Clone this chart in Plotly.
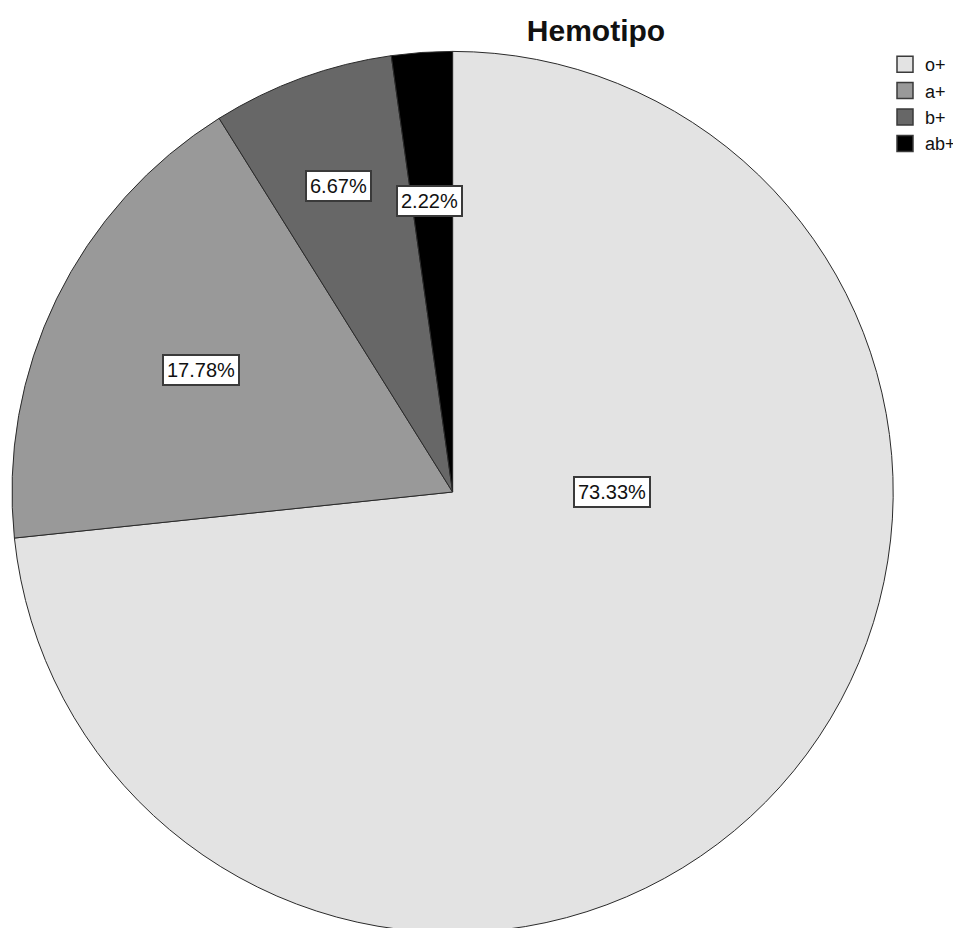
import math
import plotly.graph_objects as go

# ---- data ----
title_text = "Hemotipo"
categories = ["o+", "a+", "b+", "ab+"]
counts = [33, 8, 3, 1]
slice_colors = ["#e3e3e3", "#999999", "#676767", "#000000"]

# label placement (fraction of radius) and optional angle override (degrees clockwise from top)
label_radius_frac = [0.371, 0.632, 0.742, 0.664]
label_angle_override = [90, None, None, None]

FONT = "Liberation Sans, Arial, sans-serif"
W, H = 953, 926
# pie geometry in pixels (figure coordinates)
pie_left, pie_right, pie_top = 4, 888, 42
R_px = min(pie_right - pie_left, H - pie_top) / 2
cx_px = (pie_left + pie_right) / 2 - 3
cy_px = pie_top + R_px
R_draw = R_px - 3  # plotly draws the pie slightly inside its domain

fig = go.Figure()
fig.add_trace(go.Pie(
    labels=categories,
    values=counts,
    sort=False,
    direction="clockwise",
    rotation=0,
    marker=dict(colors=slice_colors, line=dict(color="#2a2a2a", width=1)),
    textinfo="none",
    hoverinfo="label+percent",
    showlegend=False,
    domain=dict(x=[pie_left / W, pie_right / W], y=[0, 1 - pie_top / H]),
))

# legend entries (square swatches)
for cat, col in zip(categories, slice_colors):
    fig.add_trace(go.Scatter(
        x=[None], y=[None], mode="markers", name=cat,
        marker=dict(symbol="square", size=16, color=col,
                    line=dict(color="#3a3a3a", width=1.5)),
        showlegend=True, hoverinfo="skip",
    ))

total = sum(counts)
cum = 0
annotations = []
for i, (cat, v) in enumerate(zip(categories, counts)):
    pct = 100 * v / total
    mid = (cum + v / 2) / total * 360
    cum += v
    ang = label_angle_override[i] if label_angle_override[i] is not None else mid
    r = label_radius_frac[i] * R_draw
    px = cx_px + r * math.sin(math.radians(ang))
    py = cy_px - r * math.cos(math.radians(ang))
    annotations.append(dict(
        x=px / W, y=1 - py / H, xref="paper", yref="paper",
        text=f"{pct:.2f}%", showarrow=False,
        font=dict(family=FONT, size=20, color="#111111"),
        bgcolor="white", bordercolor="#3a3a3a", borderwidth=2, borderpad=3,
        xanchor="center", yanchor="middle",
    ))

fig.update_layout(
    width=W, height=H,
    margin=dict(l=0, r=0, t=0, b=0),
    paper_bgcolor="white", plot_bgcolor="white",
    xaxis=dict(visible=False), yaxis=dict(visible=False),
    title=dict(text="<b>" + title_text + "</b>", x=588 / W, y=1 - 22 / H,
               xanchor="center", yanchor="middle",
               font=dict(family=FONT, size=30, color="#111111")),
    legend=dict(x=880 / W, y=1 - 38 / H, xanchor="left", yanchor="top",
                font=dict(family=FONT, size=18, color="#111111"),
                bgcolor="rgba(0,0,0,0)", tracegroupgap=0, itemwidth=30,
                itemsizing="trace"),
    annotations=annotations,
    showlegend=True,
)

fig.write_html("out.html")
